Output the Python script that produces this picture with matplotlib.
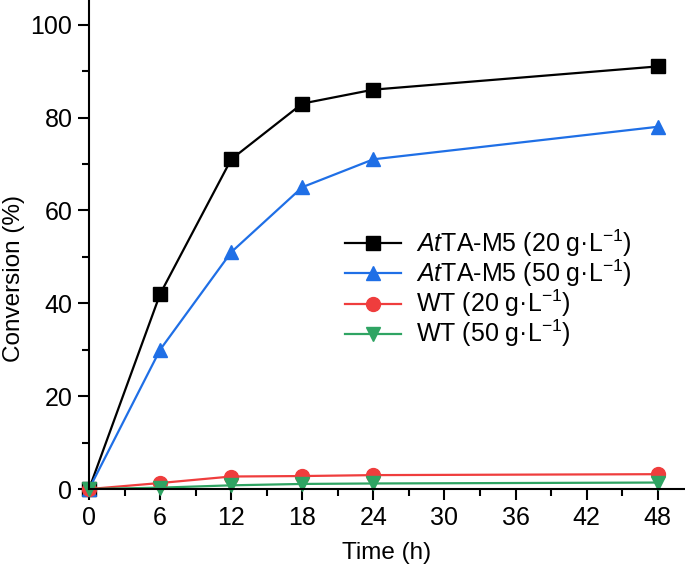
import matplotlib
matplotlib.use('Agg')
import matplotlib.pyplot as plt
from matplotlib.ticker import MultipleLocator

plt.rcParams['font.family'] = ['Liberation Sans', 'DejaVu Sans']
plt.rcParams['mathtext.fontset'] = 'custom'
plt.rcParams['mathtext.rm'] = 'Liberation Sans'
plt.rcParams['mathtext.it'] = 'Liberation Sans:italic'

time_h = [0, 6, 12, 18, 24, 48]
m5_20 = [0, 42, 71, 83, 86, 91]
m5_50 = [0, 30, 51, 65, 71, 78]
wt_20 = [0, 1.3, 2.7, 2.8, 3.0, 3.2]
wt_50 = [0, 0.3, 0.8, 1.1, 1.2, 1.4]

labels = [r'$\mathit{At}$TA-M5 (20 g·L$^{\mathregular{-1}}$)',
          r'$\mathit{At}$TA-M5 (50 g·L$^{\mathregular{-1}}$)',
          r'WT (20 g·L$^{\mathregular{-1}}$)',
          r'WT (50 g·L$^{\mathregular{-1}}$)']
series = [m5_20, m5_50, wt_20, wt_50]
colors = ['#000000', '#1f6fe6', '#ef3d3d', '#2fa463']
markers = ['s', '^', 'o', 'v']

fig = plt.figure(figsize=(6.85, 5.68), dpi=100)
ax = fig.add_axes([0.130, 0.139, 0.870, 0.861])

for ys, lab, c, m in zip(series, labels, colors, markers):
    ax.plot(time_h, ys, color=c, marker=m, markersize=10, linewidth=1.6,
            label=lab, clip_on=False)

ax.set_xlim(0, 50.3)
ax.set_ylim(0, 105.3)
ax.xaxis.set_major_locator(MultipleLocator(6))
ax.xaxis.set_minor_locator(MultipleLocator(3))
ax.yaxis.set_major_locator(MultipleLocator(20))
ax.yaxis.set_minor_locator(MultipleLocator(10))

for s in ['top', 'right']:
    ax.spines[s].set_visible(False)
for s in ['left', 'bottom']:
    ax.spines[s].set_linewidth(1.5)

ax.tick_params(which='major', direction='out', length=8, width=1.5, labelsize=18, pad=4)
ax.tick_params(which='minor', direction='out', length=5, width=1.5)

ax.set_xlabel('Time (h)', fontsize=17.5, labelpad=9)
ax.set_ylabel('Conversion (%)', fontsize=17.5)
ax.yaxis.set_label_coords(-0.108, 0.43)

ax.legend(loc='upper left', bbox_to_anchor=(0.412, 0.555), frameon=False,
          fontsize=18, handlelength=2.25, labelspacing=-0.05, handletextpad=0.6,
          borderaxespad=0)

fig.savefig('out.png', dpi=100)
